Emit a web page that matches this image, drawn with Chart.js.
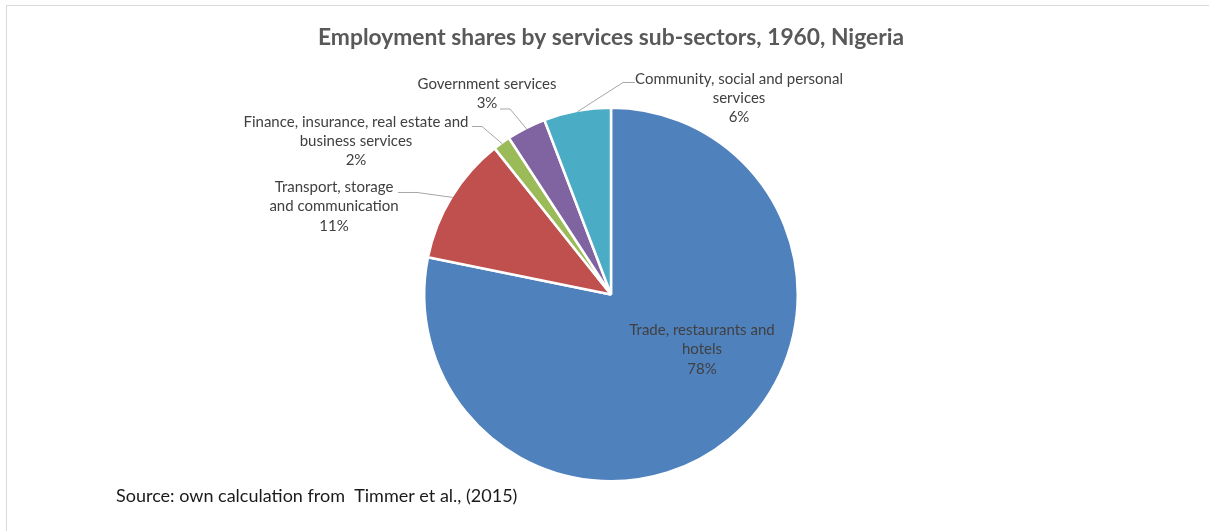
<!DOCTYPE html>
<html lang="en">

<head>
    <meta charset="UTF-8" />
    <title>Employment shares by services sub-sectors, 1960, Nigeria</title>
    <script src="https://cdn.jsdelivr.net/npm/chart.js"></script>
    <style>
        body {
            margin: 0;
            background-color: #fff;
            overflow: hidden;
        }

        .frame {
            position: absolute;
            left: 6px;
            top: 5px;
            width: 1400px;
            height: 700px;
            border: 1px solid #d9d9d9;
        }

        canvas {
            position: absolute;
            left: 0;
            top: 0;
        }
    </style>
</head>

<body>
    <div class="frame"></div>
    <canvas id="sharesChart" width="1209" height="531"></canvas>

    <script>
        // sub-sector label, split into the lines it is printed on
        const labelLines = [
            ['Trade, restaurants and', 'hotels'],
            ['Transport, storage', 'and communication'],
            ['Finance, insurance, real estate and', 'business services'],
            ['Government services'],
            ['Community, social and personal', 'services']
        ];
        const categories = labelLines.map(l => l.join(' '));

        // employment share, percent
        const shares = [78.2, 11.1, 1.5, 3.4, 5.8];

        const colors = ['#4f81bd', '#c0504d', '#9bbb59', '#8064a2', '#4bacc6'];

        // where each label sits, in px from the pie centre; leader = elbow + end of the short horizontal
        const labelPlacement = [
            { text: [91, 55] },
            { text: [-277, -88], elbow: [-194, -102], end: [-213, -102] },
            { text: [-255, -153.5], elbow: [-129, -168], end: [-139, -168] },
            { text: [-124, -201], elbow: [-101, -185.5], end: [-111, -185.5] },
            { text: [128, -196.5], elbow: [12, -212], end: [24, -212] }
        ];

        const FONT = 'Lato, sans-serif';

        const sliceLabels = {
            id: 'sliceLabels',
            afterDraw(chart) {
                const ctx = chart.ctx;
                const meta = chart.getDatasetMeta(0);
                ctx.save();
                meta.data.forEach((arc, i) => {
                    const { x, y, startAngle, endAngle, outerRadius } =
                        arc.getProps(['x', 'y', 'startAngle', 'endAngle', 'outerRadius'], true);
                    const p = labelPlacement[i];
                    const mid = (startAngle + endAngle) / 2;

                    if (p.elbow) {
                        ctx.strokeStyle = '#a6a6a6';
                        ctx.lineWidth = 1;
                        ctx.beginPath();
                        ctx.moveTo(x + Math.cos(mid) * (outerRadius - 1), y + Math.sin(mid) * (outerRadius - 1));
                        ctx.lineTo(x + p.elbow[0], y + p.elbow[1]);
                        ctx.lineTo(x + p.end[0], y + p.end[1]);
                        ctx.stroke();
                    }

                    const lines = labelLines[i].concat(Math.round(shares[i]) + '%');
                    const lh = 19.2;
                    ctx.fillStyle = '#404040';
                    ctx.font = '15px ' + FONT;
                    ctx.textAlign = 'center';
                    ctx.textBaseline = 'middle';
                    const top = y + p.text[1] - (lines.length - 1) * lh / 2;
                    lines.forEach((t, k) => ctx.fillText(t, x + p.text[0], top + k * lh));
                });

                ctx.fillStyle = '#1a1a1a';
                ctx.font = '18px ' + FONT;
                ctx.textAlign = 'left';
                ctx.textBaseline = 'middle';
                ctx.fillText('Source: own calculation from  Timmer et al., (2015)', 116, 496);
                ctx.restore();
            }
        };

        const ctx = document.getElementById('sharesChart').getContext('2d');
        new Chart(ctx, {
            type: 'pie',
            data: {
                labels: categories,
                datasets: [{
                    data: shares,
                    backgroundColor: colors,
                    borderColor: '#ffffff',
                    borderWidth: 2.5
                }]
            },
            options: {
                responsive: false,
                animation: false,
                devicePixelRatio: 1,
                layout: {
                    padding: { top: 0, bottom: 48.5, left: 300, right: 287 }
                },
                plugins: {
                    legend: { display: false },
                    tooltip: { enabled: false },
                    title: {
                        display: true,
                        text: 'Employment shares by services sub-sectors, 1960, Nigeria',
                        color: '#595959',
                        font: { family: FONT, size: 22.8, weight: 'bold' },
                        padding: { top: 24.3, bottom: 54.8 }
                    }
                }
            },
            plugins: [sliceLabels]
        });
    </script>
</body>

</html>
